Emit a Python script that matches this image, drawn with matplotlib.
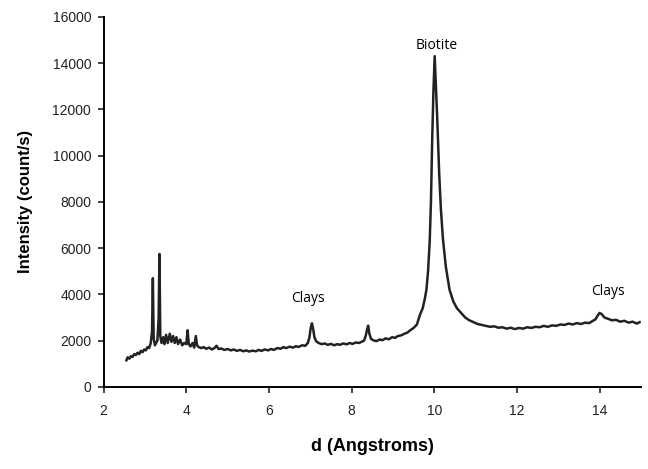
import matplotlib.pyplot as plt

plt.rcParams['font.family'] = ['Liberation Sans', 'DejaVu Sans']

# d-spacing (Angstroms) and intensity (count/s)
d = [2.55, 2.58, 2.62, 2.66, 2.70, 2.74, 2.78, 2.82, 2.86, 2.90, 2.94, 2.98, 3.02, 3.06, 3.10, 3.14,
     3.17, 3.19, 3.21, 3.24, 3.27, 3.30, 3.33, 3.35, 3.37, 3.40, 3.44, 3.47, 3.51, 3.55, 3.60, 3.64,
     3.68, 3.72, 3.76, 3.80, 3.85, 3.90, 3.95, 4.00, 4.03, 4.06, 4.10, 4.15, 4.19, 4.23, 4.26, 4.30,
     4.36, 4.42, 4.48, 4.55, 4.62, 4.68, 4.73, 4.78, 4.85, 4.92, 5.00, 5.08, 5.15, 5.22, 5.30, 5.38,
     5.45, 5.52, 5.60, 5.68, 5.75, 5.82, 5.90, 5.98, 6.05, 6.12, 6.20, 6.28, 6.35, 6.42, 6.50, 6.58,
     6.65, 6.72, 6.80, 6.88, 6.94, 6.98, 7.01, 7.04, 7.07, 7.10, 7.14, 7.20, 7.28, 7.35, 7.42, 7.50,
     7.58, 7.65, 7.72, 7.80, 7.88, 7.95, 8.02, 8.10, 8.18, 8.25, 8.30, 8.34, 8.37, 8.40, 8.43, 8.47,
     8.52, 8.60, 8.68, 8.75, 8.82, 8.90, 8.98, 9.05, 9.12, 9.20, 9.28, 9.35, 9.42, 9.50, 9.58, 9.65,
     9.72, 9.77, 9.81, 9.85, 9.89, 9.92, 9.95, 9.98, 10.01, 10.04, 10.07, 10.09, 10.12, 10.16, 10.21,
     10.28, 10.37, 10.46, 10.55, 10.65, 10.75, 10.85, 10.95, 11.05, 11.15, 11.25, 11.35, 11.45,
     11.55, 11.65, 11.75, 11.85, 11.95, 12.05, 12.15, 12.25, 12.35, 12.45, 12.55, 12.65, 12.75, 12.85,
     12.95, 13.05, 13.15, 13.25, 13.35, 13.45, 13.55, 13.65, 13.75, 13.83, 13.90, 13.96, 14.00, 14.05,
     14.12, 14.20, 14.30, 14.40, 14.50, 14.60, 14.70, 14.80, 14.90, 14.97]
counts = [1150, 1280, 1220, 1330, 1300, 1420, 1380, 1480, 1420, 1560, 1500, 1620, 1580, 1720, 1680, 1900,
          2400, 4700, 2100, 1800, 1900, 2000, 3000, 5750, 2200, 1900, 2150, 1850, 2250, 1900, 2300, 1950,
          2200, 1900, 2150, 1850, 2050, 1800, 1900, 1850, 2450, 1850, 1750, 1900, 1700, 2200, 1800, 1720,
          1680, 1720, 1650, 1700, 1620, 1680, 1780, 1640, 1660, 1600, 1640, 1580, 1620, 1560, 1600, 1540,
          1580, 1530, 1570, 1540, 1600, 1560, 1620, 1580, 1640, 1600, 1680, 1650, 1720, 1680, 1740, 1700,
          1760, 1730, 1800, 1780, 1900, 2150, 2550, 2750, 2500, 2150, 1980, 1900, 1850, 1880, 1820, 1860,
          1800, 1850, 1820, 1880, 1840, 1900, 1860, 1920, 1900, 1960, 2000, 2200, 2450, 2650, 2300, 2080,
          2020, 1980, 2050, 2020, 2100, 2060, 2150, 2120, 2200, 2230, 2300, 2350, 2450, 2550, 2700, 3100,
          3400, 3800, 4200, 5000, 6300, 8000, 10700, 12800, 14300, 13000, 11700, 10700, 9200, 7700, 6400,
          5200, 4200, 3700, 3400, 3200, 3000, 2880, 2800, 2720, 2680, 2640, 2600, 2620,
          2560, 2580, 2520, 2560, 2500, 2550, 2520, 2580, 2550, 2600, 2580, 2640, 2600, 2660,
          2640, 2700, 2680, 2740, 2700, 2760, 2720, 2780, 2760, 2850, 2920, 3100, 3200, 3150,
          3000, 2950, 2880, 2900, 2820, 2860, 2780, 2820, 2740, 2800]

labels = ['Clays', 'Biotite', 'Clays']
label_x = [6.95, 10.05, 14.2]
label_y = [3500, 14450, 3800]

fig = plt.figure(figsize=(6.48, 4.69), dpi=100)
ax = fig.add_axes([0.160, 0.175, 0.829, 0.789])
ax.plot(d, counts, color='#222222', lw=1.8)

for t, x, y in zip(labels, label_x, label_y):
    ax.text(x, y, t, ha='center', va='bottom', fontsize=10, family='Open Sans')

ax.set_xlim(2, 15)
ax.set_ylim(0, 16000)
ax.set_xticks(range(2, 15, 2))
ax.set_yticks(range(0, 16001, 2000))
ax.spines['top'].set_visible(False)
ax.spines['right'].set_visible(False)
ax.tick_params(labelsize=10, length=4, width=1.2, colors='#222222')
ax.tick_params(axis='x', pad=8)
ax.tick_params(axis='y', pad=5)
ax.spines['left'].set_linewidth(1.4)
ax.spines['bottom'].set_linewidth(1.4)
ax.set_xlabel('d (Angstroms)', fontsize=13, fontweight='bold', labelpad=15)
ax.set_ylabel('Intensity (count/s)', fontsize=12, fontweight='bold', labelpad=14)

plt.savefig('out.png', dpi=100)
